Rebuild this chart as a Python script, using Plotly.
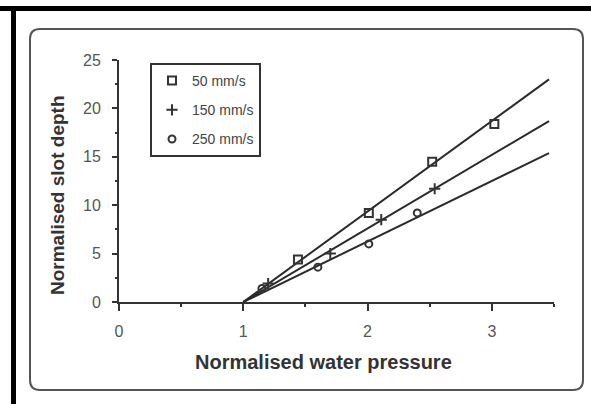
import numpy as np
import plotly.graph_objects as go

# ---- data ----
series_names = ["50 mm/s", "150 mm/s", "250 mm/s"]
x_50 = [1.44, 2.01, 2.52, 3.02]
y_50 = [4.4, 9.2, 14.5, 18.4]
x_150 = [1.20, 1.70, 2.11, 2.54]
y_150 = [1.9, 5.0, 8.5, 11.7]
x_250 = [1.15, 1.60, 2.01, 2.40]
y_250 = [1.4, 3.6, 6.0, 9.2]
fit_slopes = [9.35, 7.6, 6.25]   # fitted lines through (1, 0)
fit_x0 = 1.0
fit_x1 = 3.46
x_ticks = [0, 1, 2, 3]
y_ticks = [0, 5, 10, 15, 20, 25]

W, H = 591, 404
L, R, T, B = 119, 37, 60, 102
pw, ph = W - L - R, H - T - B

def px(x):
    return (x - L) / pw

def py(y):
    return (H - B - y) / ph

fig = go.Figure()

xs = [x_50, x_150, x_250]
ys = [y_50, y_150, y_250]
symbols = ["square-open", "cross-thin", "circle-open"]
sizes = [8, 8, 7]

for k, slope in enumerate(fit_slopes):
    lx = np.array([fit_x0, fit_x1])
    fig.add_trace(go.Scatter(x=lx, y=slope * (lx - fit_x0), mode="lines",
                             line=dict(color="#2a2a2a", width=2),
                             showlegend=False, hoverinfo="skip"))

for k in range(3):
    fig.add_trace(go.Scatter(x=xs[k], y=ys[k], mode="markers", name=series_names[k],
                             legendgroup=f"g{k}",
                             marker=dict(symbol=symbols[k], size=sizes[k], color="#333",
                                         line=dict(width=2, color="#333"))))

# rounded frame
x0, y0, x1, y1 = 30, 29, 583, 390
r = 10
fx0, fx1 = px(x0), px(x1)
fy0, fy1 = py(y0), py(y1)
rx, ry = r / pw, r / ph
path = (f"M {fx0+rx},{fy0} L {fx1-rx},{fy0} Q {fx1},{fy0} {fx1},{fy0-ry} "
        f"L {fx1},{fy1+ry} Q {fx1},{fy1} {fx1-rx},{fy1} "
        f"L {fx0+rx},{fy1} Q {fx0},{fy1} {fx0},{fy1+ry} "
        f"L {fx0},{fy0-ry} Q {fx0},{fy0} {fx0+rx},{fy0} Z")
shapes = [
    dict(type="path", xref="paper", yref="paper", path=path,
         line=dict(color="#555", width=2), layer="below"),
    # black scan borders top and left
    dict(type="rect", xref="paper", yref="paper", x0=px(0), x1=px(W), y0=py(6), y1=py(11),
         fillcolor="black", line=dict(width=0)),
    dict(type="rect", xref="paper", yref="paper", x0=px(11), x1=px(16), y0=py(6), y1=py(H),
         fillcolor="black", line=dict(width=0)),
]

fig.update_layout(
    width=W, height=H,
    margin=dict(l=L, r=R, t=T, b=B),
    paper_bgcolor="white", plot_bgcolor="white",
    font=dict(family="Liberation Sans, Arial, sans-serif", color="#444"),
    shapes=shapes,
    showlegend=True,
    legend=dict(x=px(150), y=py(63), xanchor="left", yanchor="top",
                bgcolor="white", bordercolor="#333", borderwidth=2,
                font=dict(size=14, color="#444"), tracegroupgap=8,
                itemwidth=30),
    annotations=[
        dict(text="<b>Normalised water pressure</b>", xref="paper", yref="paper",
             x=px(323), y=py(362), xanchor="center", yanchor="middle",
             showarrow=False, font=dict(size=20, color="#333")),
        dict(text="<b>Normalised slot depth</b>", xref="paper", yref="paper",
             x=px(57), y=py(195), xanchor="center", yanchor="middle",
             showarrow=False, textangle=-90,
             font=dict(size=19, color="#333")),
    ],
)

fig.update_xaxes(range=[0, 3.5], tickvals=x_ticks, ticks="outside", ticklen=7,
                 tickwidth=2, tickcolor="#333", showline=True, linecolor="#333",
                 linewidth=2, showgrid=False, zeroline=False,
                 tickfont=dict(size=16, color="#555"), ticklabelstandoff=7,
                 minor=dict(dtick=0.5, tick0=0, ticks="outside", ticklen=3,
                            tickwidth=2, tickcolor="#333"))
fig.update_yaxes(range=[0, 25], tickvals=y_ticks, ticks="outside", ticklen=5,
                 tickwidth=2, tickcolor="#333", showline=True, linecolor="#333",
                 linewidth=2, showgrid=False, zeroline=False,
                 tickfont=dict(size=16, color="#555"), ticklabelstandoff=8,
                 minor=dict(dtick=2.5, tick0=0, ticks="outside", ticklen=2,
                            tickwidth=2, tickcolor="#333"))

fig.write_html("out.html", config={"displayModeBar": False},
               post_script="document.body.style.margin='0';document.body.style.overflow='hidden';")
